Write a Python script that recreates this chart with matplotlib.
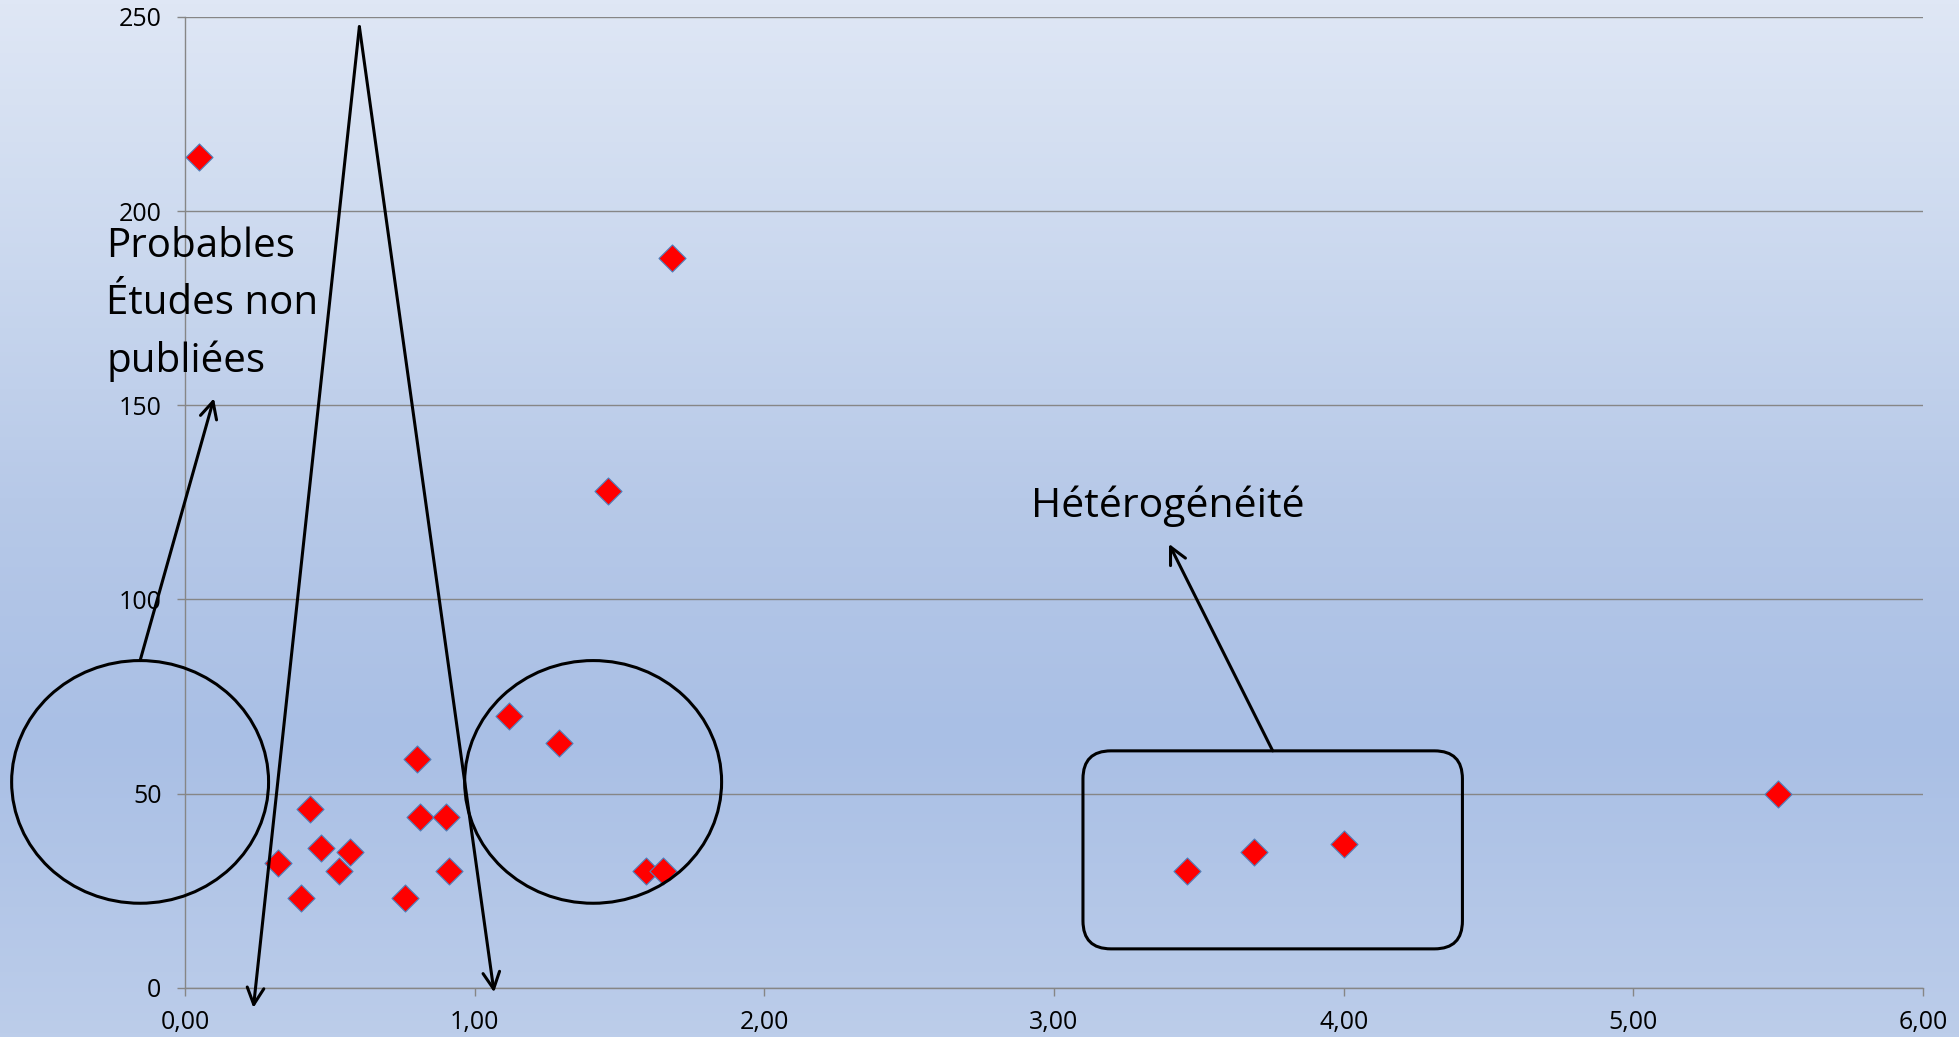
import numpy as np
import matplotlib
matplotlib.use('Agg')
import matplotlib.pyplot as plt
from matplotlib.colors import LinearSegmentedColormap
from matplotlib.patches import Ellipse, FancyBboxPatch
from matplotlib.ticker import FuncFormatter

plt.rcParams['font.family'] = ['Open Sans', 'DejaVu Sans']

# studies: effect size (x) vs sample size (y)
effect = [0.05, 1.68, 1.46, 5.50,
          3.46, 3.69, 4.00,
          0.32, 0.43, 0.40, 0.47, 0.53, 0.57, 0.80, 0.81, 0.90, 0.91, 0.76,
          1.12, 1.29, 1.59, 1.65]
size = [214, 188, 128, 50,
        30, 35, 37,
        32, 46, 23, 36, 30, 35, 59, 44, 44, 30, 23,
        70, 63, 30, 30]

x_ticks = [0, 1, 2, 3, 4, 5, 6]
y_ticks = [0, 50, 100, 150, 200, 250]

# funnel outline: apex and the two open ends
funnel_apex = (0.602, 247.5)
funnel_ends = [(0.236, -5.2), (1.067, -1.2)]

# missing-study zones and the heterogeneity box
ellipse_centers = [(-0.155, 53.0), (1.409, 53.0)]
ellipse_w, ellipse_h = 0.887, 62.5
het_box = (3.10, 10.0, 4.41, 61.0)  # x0, y0, x1, y1

label_missing = ["Probables", "Études non", "publiées"]
label_het = "Hétérogénéité"

W, H, DPI = 1959, 1037, 100
fig = plt.figure(figsize=(W / DPI, H / DPI), dpi=DPI)

# vertical background gradient
bg = fig.add_axes([0, 0, 1, 1], zorder=-10)
cmap = LinearSegmentedColormap.from_list('bg', [
    (0.0, '#bccdea'), (0.29, '#a9bfe5'), (0.52, '#b7c9e8'),
    (0.73, '#c9d7ee'), (1.0, '#dfe7f5')])
bg.imshow(np.linspace(0, 1, 256).reshape(-1, 1), cmap=cmap, aspect='auto',
          extent=[0, 1, 0, 1], origin='lower')
bg.set_axis_off()

left, right, top, bottom = 185, 1923, 17, 987.7
ax = fig.add_axes([left / W, 1 - bottom / H, (right - left) / W, (bottom - top) / H])
ax.patch.set_alpha(0)
ax.set_xlim(0, 6)
ax.set_ylim(0, 250)

grid_c = '#868686'
for s in ['top', 'right']:
    ax.spines[s].set_visible(False)
for s in ['left', 'bottom']:
    ax.spines[s].set_color(grid_c)
    ax.spines[s].set_linewidth(1.0)
ax.set_xticks(x_ticks)
ax.set_yticks(y_ticks)
ax.xaxis.set_major_formatter(FuncFormatter(lambda v, p: f'{v:.2f}'.replace('.', ',')))
ax.yaxis.set_major_formatter(FuncFormatter(lambda v, p: f'{v:.0f}'))
ax.tick_params(direction='out', length=6, width=1.0, color=grid_c,
               labelsize=18, labelcolor='black')
ax.tick_params(axis='x', pad=10)
ax.tick_params(axis='y', pad=11)
ax.yaxis.grid(True, color=grid_c, linewidth=1.0)
ax.set_axisbelow(True)

ax.scatter(effect, size, marker='D', s=190, c='#ff0000',
           edgecolors='#4f81bd', linewidths=0.8, zorder=3)

lw = 2.2
arrow = dict(arrowstyle='->', color='black', lw=lw, mutation_scale=30,
             shrinkA=0, shrinkB=0)

# funnel
for end in funnel_ends:
    ax.annotate('', xy=end, xytext=funnel_apex, arrowprops=arrow,
                annotation_clip=False, zorder=4)

# ellipses
for c in ellipse_centers:
    ax.add_patch(Ellipse(c, ellipse_w, ellipse_h, fill=False, ec='black',
                         lw=lw, clip_on=False, zorder=4))

# rounded box, corner radius given in pixels
px_x = (right - left) / 6
px_y = (bottom - top) / 250
r_px = 28
x0, y0, x1, y1 = het_box
ax.add_patch(FancyBboxPatch((x0, y0), x1 - x0, y1 - y0,
                            boxstyle=f'round,pad=0,rounding_size={r_px / px_x}',
                            mutation_aspect=px_x / px_y, fill=False,
                            ec='black', lw=lw, clip_on=False, zorder=4))

# labels with their arrows
cx, cy = ellipse_centers[0]
ax.annotate('', xy=(0.100, 151.8), xytext=(cx, cy + ellipse_h / 2),
            arrowprops=arrow, annotation_clip=False)
for i, line in enumerate(label_missing):
    ax.text(-0.272, 188.3 - 14.9 * i, line, fontsize=29, ha='left',
            va='baseline', clip_on=False)

ax.annotate('', xy=(3.397, 114.3), xytext=(3.755, y1), arrowprops=arrow,
            annotation_clip=False)
ax.text(2.920, 121.3, label_het, fontsize=29.5, ha='left', va='baseline',
        clip_on=False)

fig.savefig('out.png', dpi=DPI)
